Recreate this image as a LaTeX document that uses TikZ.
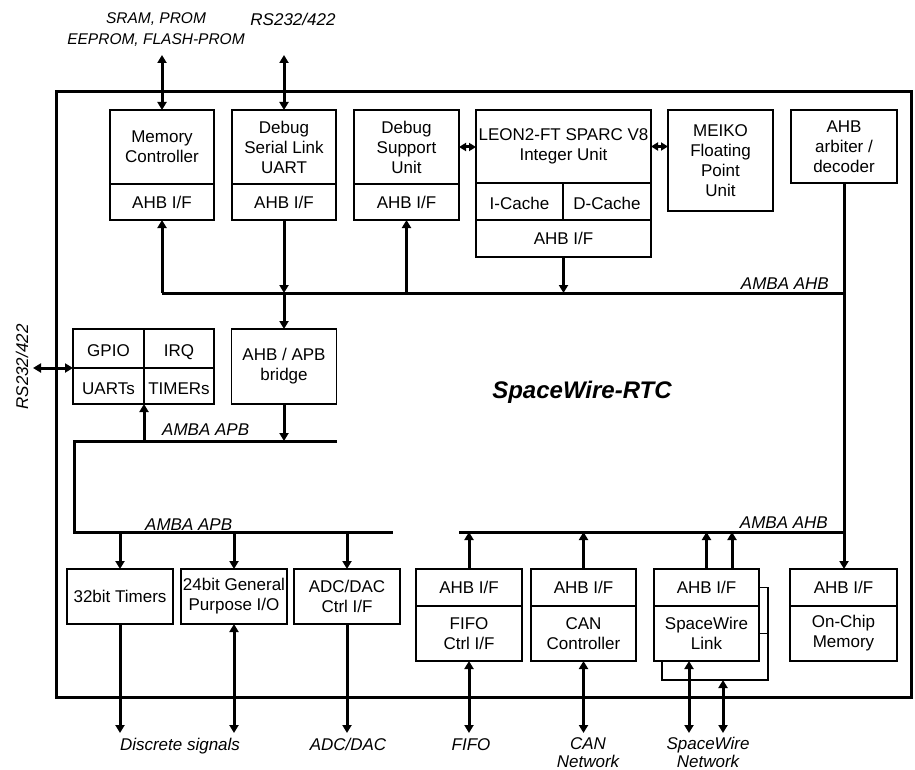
\documentclass[tikz,border=0pt]{standalone}
\usepackage{fontspec}
\setmainfont{Liberation Sans}
\usetikzlibrary{arrows.meta,positioning}

\begin{document}
\begin{tikzpicture}[x=1pt,y=-1pt,>={Triangle[width=9pt,length=8pt]},
    blk/.style={draw,line width=1.8pt,inner sep=0pt,outer sep=0pt,align=center,
      font=\fontsize{17}{20}\selectfont},
    cell/.style={blk,text height=16pt,text depth=0pt},
    lbl/.style={inner sep=0pt,align=center,font=\fontsize{17}{18}\selectfont\itshape},
    bus/.style={line width=3pt},
    link/.style={line width=3pt}]
  \useasboundingbox (0,0) rectangle (915,770);
  \draw[line width=3pt] (56,92) rectangle (911,697);

  % top row
  \node[blk,minimum width=104,minimum height=74] (mc) at (162,147) {Memory\\Controller};
  \node[blk,minimum width=104,minimum height=36,below=0pt of mc] (mcif) {AHB I/F};
  \node[blk,minimum width=104,minimum height=74] (dsl) at (284,147) {Debug\\Serial Link\\UART};
  \node[blk,minimum width=104,minimum height=36,below=0pt of dsl] (dslif) {AHB I/F};
  \node[blk,minimum width=105,minimum height=74] (dsu) at (406.5,147) {Debug\\Support\\Unit};
  \node[blk,minimum width=105,minimum height=36,below=0pt of dsu] (dsuif) {AHB I/F};
  \node[blk,minimum width=175,minimum height=73] (iu) at (563.5,146.5) {LEON2-FT SPARC V8\\Integer Unit};
  \node[cell,minimum width=87,minimum height=37] (icache) at (519.5,201.5) {I-Cache};
  \node[cell,minimum width=88,minimum height=37,right=0pt of icache] (dcache) {D-Cache};
  \node[blk,minimum width=175,minimum height=37] (iuif) at (563.5,238.5) {AHB I/F};
  \node[blk,minimum width=105,minimum height=101] (fpu) at (720.5,160.5) {MEIKO\\Floating\\Point\\Unit};
  \node[blk,minimum width=106,minimum height=73] (arb) at (844,146.5) {AHB\\arbiter /\\decoder};

  % APB side
  \node[cell,minimum width=71,minimum height=39] (gpio) at (108.5,348.5) {GPIO};
  \node[cell,minimum width=70,minimum height=39,right=0pt of gpio] (irq) {IRQ};
  \node[cell,minimum width=71,minimum height=36,below=0pt of gpio] (uarts) {UARTs};
  \node[cell,minimum width=70,minimum height=36,below=0pt of irq] (timers) {TIMERs};
  \node[blk,minimum width=105,minimum height=75] (bridge) at (284,366.5) {AHB / APB\\bridge};

  % bottom row
  \node[blk,minimum width=106,minimum height=55] (tim32) at (120,596.5) {32bit Timers};
  \node[blk,minimum width=106,minimum height=55] (gpio24) at (234,596.5) {24bit General\\Purpose I/O};
  \node[blk,minimum width=106,minimum height=55] (adc) at (347,596.5) {ADC/DAC\\Ctrl I/F};
  \node[blk,minimum width=106,minimum height=37] (fifoif) at (469,587.5) {AHB I/F};
  \node[blk,minimum width=106,minimum height=55,below=0pt of fifoif] (fifo) {FIFO\\Ctrl I/F};
  \node[blk,minimum width=105,minimum height=37] (canif) at (583.5,587.5) {AHB I/F};
  \node[blk,minimum width=105,minimum height=55,below=0pt of canif] (can) {CAN\\Controller};
  \node[blk,minimum width=105,minimum height=37] (spwif) at (706.5,587.5) {AHB I/F};
  \node[blk,minimum width=105,minimum height=55,below=0pt of spwif] (spw) {SpaceWire\\Link};
  \node[blk,minimum width=107,minimum height=37] (ocmif) at (843.5,587.5) {AHB I/F};
  \node[blk,minimum width=107,minimum height=55,below=0pt of ocmif] (ocm) {On-Chip\\Memory};
  \draw[line width=1.8pt] (spwif.east) -- ++(9,0) coordinate (spwr) -- (spwr |- 0,680)
    -- (662,680) -- (662,661);
  \draw[line width=1.8pt] (spw.east) -- (spw.east -| spwr);
  \coordinate (spwb) at (723,680);

  \node[font=\fontsize{24}{28}\selectfont\bfseries\itshape] (rtc) at (582,392) {SpaceWire-RTC};

  % labels
  \node[lbl,anchor=north,font=\fontsize{15.5}{21}\selectfont\itshape] (memlbl) at (156,12)
    {SRAM, PROM\\EEPROM, FLASH-PROM};
  \node[lbl] (rslbl) at (293,19) {RS232/422};
  \node[lbl,rotate=90] (rs2lbl) at (22,367) {RS232/422};
  \node[lbl,anchor=east] (ahblbl) at (829,283.5) {AMBA AHB};
  \node[lbl,anchor=west] (apblbl) at (162,430) {AMBA APB};
  \node[lbl,anchor=west] (apblbl2) at (145,525) {AMBA APB};
  \node[lbl,anchor=east] (ahblbl2) at (828,522.5) {AMBA AHB};
  \node[lbl,anchor=north] (disclbl) at (180,738) {Discrete signals};
  \node[lbl,anchor=north] (adclbl) at (348,738) {ADC/DAC};
  \node[lbl,anchor=north] (fifolbl) at (471,738) {FIFO};
  \node[lbl,anchor=north] (canlbl) at (588,737) {CAN\\Network};
  \node[lbl,anchor=north] (spwlbl) at (708,737) {SpaceWire\\Network};

  % buses
  \coordinate (ahb1) at (162,293);
  \coordinate (ahb3) at (459,532);
  \coordinate (apb1) at (337,441);
  \coordinate (apb2) at (393,532);
  \draw[bus] (ahb1) -- (ahb1 -| arb.south);
  \draw[bus] (ahb3) -- (ahb3 -| arb.south);
  \draw[bus] (apb1) -- (74,441) |- (apb2);

  % external ends
  \coordinate (memio) at (162,55);
  \coordinate (dbgio) at (284,55);
  \coordinate (uartio) at (33,368);
  \coordinate (discA) at (120,733);
  \coordinate (discB) at (234,733);
  \coordinate (adcio) at (347,733);
  \coordinate (fifoio) at (469,733);
  \coordinate (canio) at (583.5,733);
  \coordinate (spwio1) at (689,733);
  \coordinate (spwio2) at (723,733);

  % connectors
  \draw[link,<->] (memio) -- (mc.north);
  \draw[link,<->] (dbgio) -- (dsl.north);
  \draw[link,<->] (uartio) -- (gpio.south west);
  \draw[link,->] (ahb1) -- (mcif.south);
  \draw[link,->] (dslif.south) -- (dslif.south |- ahb1);
  \draw[link,->] (dslif.south |- ahb1) -- (bridge.north);
  \draw[link,->] (dsuif.south |- ahb1) -- (dsuif.south);
  \draw[link,->] (iuif.south) -- (iuif.south |- ahb1);
  \draw[link,<->,>={Triangle[width=8pt,length=7pt]}] (dsu.east) -- (dsu.east -| iu.west);
  \draw[link,<->,>={Triangle[width=8pt,length=7pt]}] (iu.east) -- (iu.east -| fpu.west);
  \draw[link,->] (arb.south) -- (arb.south |- ocmif.north);
  \draw[link,->] (uarts.south east |- apb1) -- (uarts.south east);
  \draw[link,->] (bridge.south) -- (bridge.south |- apb1);
  \draw[link,->] (tim32.north |- apb2) -- (tim32.north);
  \draw[link,->] (gpio24.north |- apb2) -- (gpio24.north);
  \draw[link,->] (adc.north |- apb2) -- (adc.north);
  \draw[link,->] (tim32.south) -- (discA);
  \draw[link,<->] (gpio24.south) -- (discB);
  \draw[link,->] (adc.south) -- (adcio);
  \draw[link,->] (fifoif.north) -- (fifoif.north |- ahb3);
  \draw[link,->] (canif.north) -- (canif.north |- ahb3);
  \draw[link,->] (spwif.north) -- (spwif.north |- ahb3);
  \draw[link,->] ([xshift=25.5]spwif.north) -- ([xshift=25.5]spwif.north |- ahb3);
  \draw[link,<->] (fifo.south) -- (fifoio);
  \draw[link,<->] (can.south) -- (canio);
  \draw[link,<->] (spw.south -| spwio1) -- (spwio1);
  \draw[link,<->] (spwb) -- (spwio2);
\end{tikzpicture}
\end{document}
